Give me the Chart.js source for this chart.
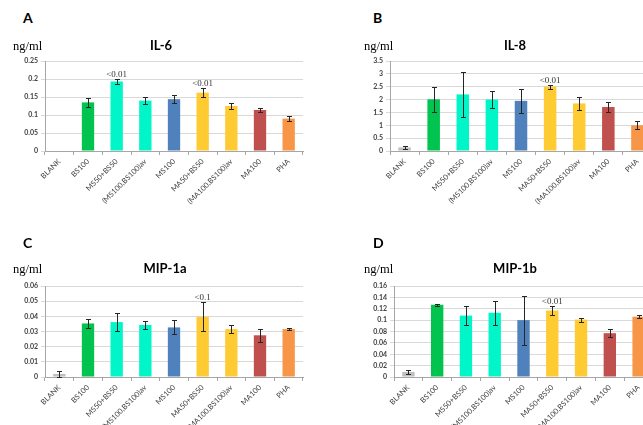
<!DOCTYPE html>
<html>
<head>
<meta charset="utf-8">
<script src="https://cdn.jsdelivr.net/npm/chart.js@4/dist/chart.umd.min.js"></script>
<style>
html,body{margin:0;padding:0;background:#fff;overflow:hidden;width:643px;height:425px;}
#wrap{position:relative;width:643px;height:425px;overflow:hidden;background:#fff;}
.letter{position:absolute;font:bold 14px Lato,"Liberation Sans",sans-serif;line-height:14px;color:#000;}
.unit{position:absolute;font:12.5px "Liberation Serif","DejaVu Serif",serif;line-height:13px;color:#000;}
.title{position:absolute;font:bold 13px Lato,"Liberation Sans",sans-serif;line-height:14px;color:#000;transform:translateX(-50%);white-space:nowrap;z-index:2;}
canvas{position:absolute;}
</style>
</head>
<body>
<div id="wrap">
  <canvas id="cA" width="320" height="182" style="left:0px;top:28px"></canvas>
  <canvas id="cB" width="360" height="182" style="left:320px;top:28px"></canvas>
  <canvas id="cC" width="320" height="175" style="left:0px;top:250px"></canvas>
  <canvas id="cD" width="360" height="175" style="left:320px;top:250px"></canvas>
  <div class="letter" style="left:23px;top:11px">A</div>
  <div class="letter" style="left:373px;top:11px">B</div>
  <div class="letter" style="left:23px;top:236px">C</div>
  <div class="letter" style="left:373px;top:236px">D</div>
  <div class="unit" style="left:13px;top:40px">ng/ml</div>
  <div class="unit" style="left:364px;top:40px">ng/ml</div>
  <div class="unit" style="left:13px;top:263px">ng/ml</div>
  <div class="unit" style="left:364px;top:263px">ng/ml</div>
  <div class="title" id="tA" style="left:161px;top:38px"></div>
  <div class="title" id="tB" style="left:515px;top:38px"></div>
  <div class="title" id="tC" style="left:165px;top:261px"></div>
  <div class="title" id="tD" style="left:515px;top:261px"></div>
</div>
<script>
// ---- data ----
const categories = ['BLANK','BS100','MS50+BS50','(MS100,BS100)av','MS100','MA50+BS50','(MA100,BS100)av','MA100','PHA'];
const barColors = ['#bfbfbf','#00c44f','#00f5c8','#00f5c8','#4f81bd','#ffcb33','#ffcb33','#c0504d','#f79646'];
const panelTitles = ['IL-6','IL-8','MIP-1a','MIP-1b'];

const il6Values = [0, 0.135, 0.193, 0.140, 0.144, 0.162, 0.125, 0.114, 0.090];
const il6Errors = [0, 0.012, 0.006, 0.009, 0.011, 0.0125, 0.007, 0.0065, 0.0065];
const il6Notes  = ['', '', '<0.01', '', '', '<0.01', '', '', ''];
const il6Ticks  = ['0','0.05','0.1','0.15','0.2','0.25'];

const il8Values = [0.14, 2.01, 2.2, 2.0, 1.95, 2.5, 1.85, 1.71, 1.0];
const il8Errors = [0.06, 0.49, 0.87, 0.33, 0.47, 0.08, 0.25, 0.2, 0.16];
const il8Notes  = ['', '', '', '', '', '<0.01', '', '', ''];
const il8Ticks  = ['0','0.5','1','1.5','2','2.5','3','3.5'];

const mip1aValues = [0.002, 0.0353, 0.0362, 0.0343, 0.0327, 0.0397, 0.0316, 0.0275, 0.0316];
const mip1aErrors = [0.0018, 0.003, 0.006, 0.0029, 0.0046, 0.0096, 0.0024, 0.0042, 0.0007];
const mip1aNotes  = ['', '', '', '', '', '<0.1', '', '', ''];
const mip1aTicks  = ['0','0.01','0.02','0.03','0.04','0.05','0.06'];

const mip1bValues = [0.0088, 0.127, 0.108, 0.113, 0.100, 0.117, 0.101, 0.077, 0.106];
const mip1bErrors = [0.004, 0.002, 0.017, 0.021, 0.043, 0.0073, 0.0035, 0.007, 0.003];
const mip1bNotes  = ['', '', '', '', '', '<0.01', '', '', ''];
const mip1bTicks  = ['0','0.02','0.04','0.06','0.08','0.1','0.12','0.14','0.16'];

['tA','tB','tC','tD'].forEach((id, i) => { document.getElementById(id).textContent = panelTitles[i]; });

// ---- error bar + note plugin ----
const errorBarPlugin = {
  id: 'errorBars',
  afterDatasetsDraw(chart, args, opts) {
    const ctx = chart.ctx;
    const yScale = chart.scales.y;
    const meta = chart.getDatasetMeta(0);
    const vals = chart.data.datasets[0].data;
    ctx.save();
    meta.data.forEach((bar, i) => {
      const v = vals[i];
      const e = opts.errors[i];
      let topPx = yScale.getPixelForValue(v);
      const x = Math.round(bar.x) + 0.5;
      if (e) {
        const hi = Math.round(yScale.getPixelForValue(v + e)) + 0.5;
        const lo = Math.round(yScale.getPixelForValue(Math.max(v - e, 0))) + 0.5;
        ctx.strokeStyle = '#262626';
        ctx.lineWidth = 1;
        ctx.beginPath();
        ctx.moveTo(x, hi); ctx.lineTo(x, lo);
        ctx.moveTo(x - 2.5, hi); ctx.lineTo(x + 2.5, hi);
        ctx.moveTo(x - 2.5, lo); ctx.lineTo(x + 2.5, lo);
        ctx.stroke();
        topPx = hi;
      }
      const note = opts.notes[i];
      if (note) {
        ctx.font = '9px "Liberation Serif", serif';
        ctx.fillStyle = '#333';
        ctx.textAlign = 'center';
        ctx.textBaseline = 'alphabetic';
        ctx.fillText(note, bar.x, topPx - 3);
      }
    });
    ctx.restore();
  }
};

function makeChart(id, values, errors, notes, tickLabels, maxY, step, lay) {
  return new Chart(document.getElementById(id), {
    type: 'bar',
    data: {
      labels: categories,
      datasets: [{
        data: values,
        backgroundColor: barColors,
        borderWidth: 0,
        barPercentage: 0.43,
        categoryPercentage: 1
      }]
    },
    options: {
      responsive: false,
      animation: false,
      devicePixelRatio: 1,
      layout: { padding: { left: lay.padL, right: lay.padR, top: lay.padT, bottom: 0 } },
      plugins: {
        legend: { display: false },
        tooltip: { enabled: false },
        title: { display: false },
        errorBars: { errors: errors, notes: notes }
      },
      scales: {
        x: {
          grid: { display: true, drawOnChartArea: false, drawTicks: true, tickLength: 4, color: '#a6a6a6', offset: true },
          border: { color: '#a6a6a6' },
          ticks: { autoSkip: false, minRotation: 45, maxRotation: 45, padding: 2,
                   font: { family: 'Lato', size: 7.5 }, color: '#404040' },
          afterFit(s) { s.height = lay.xH; }
        },
        y: {
          min: 0, max: maxY,
          ticks: { stepSize: step, autoSkip: false, padding: 3,
                   font: { family: 'Lato', size: 7, weight: 'bold' }, color: '#404040',
                   callback: (v, i) => tickLabels[i] },
          grid: { color: '#d9d9d9', drawTicks: true, tickLength: 4 },
          border: { color: '#a6a6a6' },
          afterFit(s) { s.width = lay.yW; }
        }
      }
    },
    plugins: [errorBarPlugin]
  });
}

makeChart('cA', il6Values, il6Errors, il6Notes, il6Ticks, 0.25, 0.05,
  { padL: 5, yW: 40, padR: 17, padT: 33, xH: 59 });
makeChart('cB', il8Values, il8Errors, il8Notes, il8Ticks, 3.5, 0.5,
  { padL: 40, yW: 30, padR: 28, padT: 33, xH: 59 });
makeChart('cC', mip1aValues, mip1aErrors, mip1aNotes, mip1aTicks, 0.06, 0.01,
  { padL: 5, yW: 40, padR: 17, padT: 36, xH: 48 });
makeChart('cD', mip1bValues, mip1bErrors, mip1bNotes, mip1bTicks, 0.16, 0.02,
  { padL: 44, yW: 30, padR: 27, padT: 36, xH: 48 });
</script>
</body>
</html>
